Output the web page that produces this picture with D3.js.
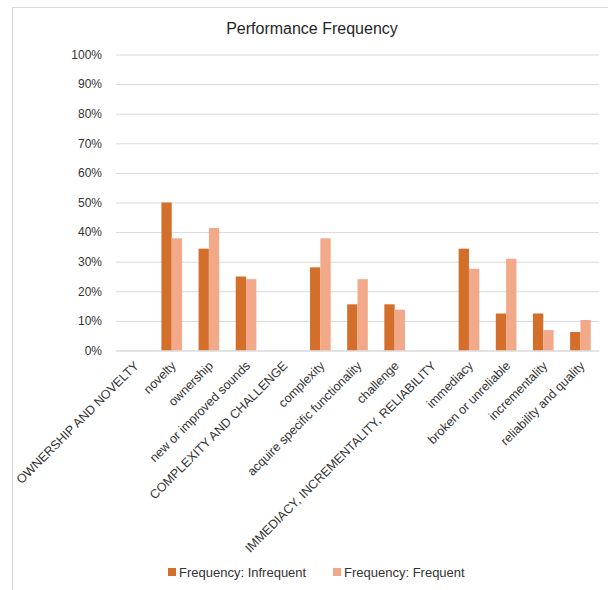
<!DOCTYPE html>
<html>
<head>
<meta charset="utf-8">
<script src="https://cdn.jsdelivr.net/npm/d3@7"></script>
<style>
  html, body { margin: 0; padding: 0; background: #fff; }
  svg text { font-family: "Liberation Sans", Arial, sans-serif; fill: #333; }
</style>
</head>
<body>
<svg id="chart" width="608" height="590"></svg>
<script>
// Categories along the x axis (upper-case entries are group headings with no bars)
const categories = [
  "OWNERSHIP AND NOVELTY",
  "novelty",
  "ownership",
  "new or improved sounds",
  "COMPLEXITY AND CHALLENGE",
  "complexity",
  "acquire specific functionality",
  "challenge",
  "IMMEDIACY, INCREMENTALITY, RELIABILITY",
  "immediacy",
  "broken or unreliable",
  "incrementality",
  "reliability and quality"
];

// Share of responses per category, by frequency group
const infrequent = [null, 0.500, 0.344, 0.250, null, 0.281, 0.156, 0.156, null, 0.344, 0.125, 0.125, 0.0625];
const frequent   = [null, 0.379, 0.414, 0.241, null, 0.379, 0.241, 0.138, null, 0.276, 0.310, 0.069, 0.103];

const seriesNames = ["Frequency: Infrequent", "Frequency: Frequent"];
const seriesColors = ["#D36F2B", "#F1A98A"];
const yTicks = [0, 0.1, 0.2, 0.3, 0.4, 0.5, 0.6, 0.7, 0.8, 0.9, 1.0];

const svg = d3.select("#chart");

// chart-area frame
svg.append("rect")
  .attr("x", 12.5).attr("y", 7.5)
  .attr("width", 800).attr("height", 800)
  .attr("fill", "none").attr("stroke", "#d9d9d9");

// title
svg.append("text")
  .attr("x", 312).attr("y", 34)
  .attr("text-anchor", "middle")
  .style("font-size", "16px")
  .style("fill", "#262626")
  .text("Performance Frequency");

const plot = { left: 116, right: 599, top: 54.5, bottom: 350.5 };

const x = d3.scaleBand()
  .domain(categories)
  .range([plot.left, plot.right])
  .paddingInner(0)
  .paddingOuter(0);

const groupWidth = x.bandwidth() / 1.8;
const xs = d3.scaleBand()
  .domain(seriesNames)
  .range([0, groupWidth]);

const y = d3.scaleLinear().domain([0, 1]).range([plot.bottom, plot.top]);

// gridlines + y labels
const yAxis = d3.axisLeft(y)
  .tickValues(yTicks)
  .tickFormat(d3.format(".0%"))
  .tickSize(-(plot.right - plot.left))
  .tickPadding(14);

const gy = svg.append("g")
  .attr("transform", `translate(${plot.left},0)`)
  .call(yAxis);
gy.select(".domain").remove();
gy.selectAll(".tick line").attr("stroke", "#d9d9d9");
gy.selectAll(".tick text")
  .style("font-size", "12px")
  .style("font-family", "'Liberation Sans', Arial, sans-serif")
  .attr("fill", "#333");

// bars
const seriesData = [infrequent, frequent];
seriesData.forEach((vals, si) => {
  svg.append("g")
    .selectAll("rect")
    .data(categories.map((c, i) => ({ c, v: vals[i] })).filter(d => d.v != null))
    .join("rect")
    .attr("x", d => x(d.c) + (x.bandwidth() - groupWidth) / 2 + xs(seriesNames[si]))
    .attr("y", d => y(d.v))
    .attr("width", xs.bandwidth())
    .attr("height", d => y(0) - y(d.v))
    .attr("fill", seriesColors[si]);
});

// x axis baseline and rotated labels
const xAxis = d3.axisBottom(x).tickSize(0).tickPadding(0);
const gx = svg.append("g")
  .attr("transform", `translate(0,${plot.bottom})`)
  .call(xAxis);
gx.select(".domain").attr("stroke", "#d9d9d9");
gx.selectAll(".tick text")
  .style("font-size", "12.5px")
  .style("font-family", "'Liberation Sans', Arial, sans-serif")
  .attr("fill", "#333")
  .attr("text-anchor", "end")
  .attr("dy", 0)
  .attr("transform", "translate(5,16) rotate(-45)");

// legend
const legend = svg.append("g").attr("transform", "translate(0,572)");
const legendX = [168, 333];
seriesNames.forEach((name, i) => {
  legend.append("rect")
    .attr("x", legendX[i]).attr("y", -4)
    .attr("width", 8).attr("height", 8)
    .attr("fill", seriesColors[i]);
  legend.append("text")
    .attr("x", legendX[i] + 11).attr("y", 4.5)
    .style("font-size", "13px")
    .text(name);
});
</script>
</body>
</html>
